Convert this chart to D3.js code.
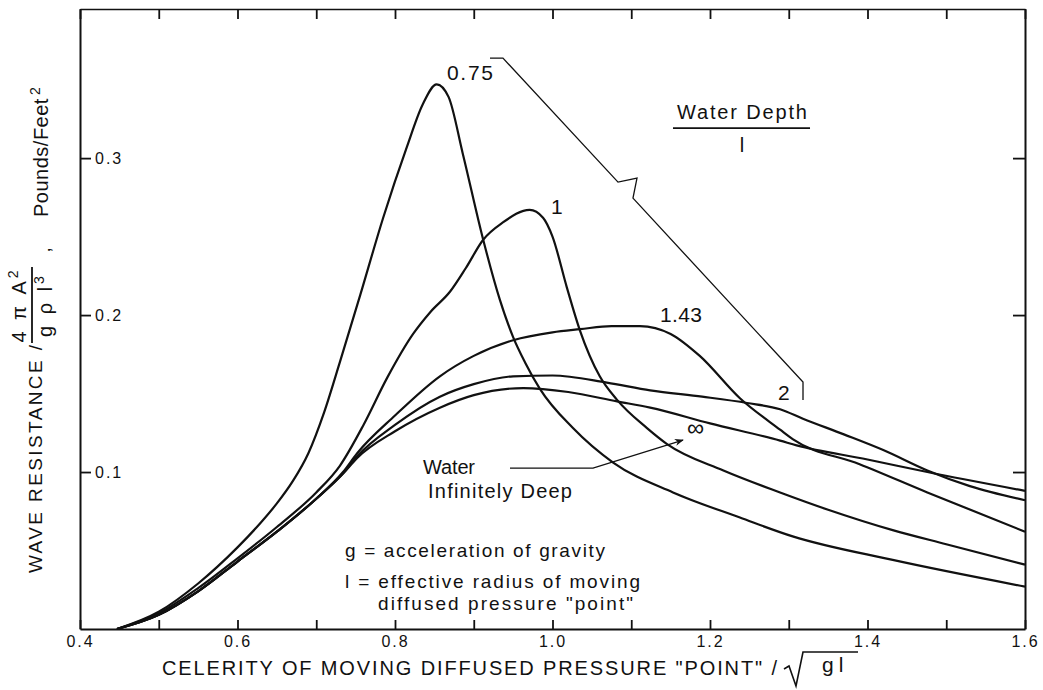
<!DOCTYPE html>
<html>
<head>
<meta charset="utf-8">
<script src="https://cdn.jsdelivr.net/npm/d3@7/dist/d3.min.js"></script>
<style>
body { margin: 0; background: #fff; }
text { font-family: "Liberation Sans", Arial, sans-serif; fill: #111; }
</style>
</head>
<body>
<svg id="chart" width="1043" height="690"></svg>
<script>
// wave resistance vs celerity, one curve per water depth / l
var depth075 = [[0.447,0],[0.50,0.011],[0.55,0.029],[0.60,0.052],[0.63,0.068],[0.65,0.080],[0.67,0.094],
  [0.69,0.112],[0.71,0.138],[0.73,0.170],[0.756,0.213],[0.785,0.262],[0.815,0.307],[0.835,0.334],
  [0.853,0.347],[0.868,0.339],[0.886,0.303],[0.912,0.248],[0.933,0.210],[0.950,0.186],[0.965,0.170],
  [0.984,0.153],[1.026,0.128],[1.077,0.106],[1.153,0.087],[1.238,0.071],[1.305,0.059],[1.432,0.044],
  [1.6,0.027]];
var depth1 = [[0.447,0],[0.50,0.010],[0.55,0.026],[0.60,0.045],[0.65,0.065],[0.70,0.087],[0.73,0.104],
  [0.76,0.130],[0.79,0.160],[0.823,0.188],[0.845,0.202],[0.870,0.215],[0.89,0.230],[0.912,0.248],
  [0.937,0.259],[0.971,0.267],[0.988,0.262],[1.0,0.250],[1.018,0.218],[1.035,0.190],[1.060,0.161],
  [1.082,0.146],[1.12,0.128],[1.145,0.118],[1.217,0.101],[1.289,0.087],[1.35,0.076],[1.432,0.063],
  [1.5,0.054],[1.6,0.041]];
var depth143 = [[0.447,0],[0.50,0.009],[0.55,0.024],[0.60,0.043],[0.65,0.062],[0.70,0.083],[0.734,0.100],
  [0.752,0.112],[0.80,0.136],[0.857,0.161],[0.90,0.174],[0.95,0.184],[1.0,0.189],[1.035,0.191],
  [1.075,0.193],[1.111,0.193],[1.15,0.188],[1.187,0.174],[1.238,0.147],[1.289,0.127],[1.305,0.121],
  [1.39,0.105],[1.476,0.087],[1.6,0.062]];
var depth2 = [[0.447,0],[0.50,0.009],[0.55,0.024],[0.60,0.043],[0.65,0.062],[0.70,0.083],[0.734,0.099],
  [0.752,0.110],[0.80,0.130],[0.857,0.148],[0.90,0.156],[0.95,0.161],[1.0,0.1615],[1.069,0.157],
  [1.124,0.152],[1.19,0.148],[1.247,0.144],[1.289,0.140],[1.318,0.134],[1.37,0.124],[1.42,0.114],
  [1.476,0.101],[1.53,0.091],[1.6,0.082]];
var depthInf = [[0.447,0],[0.50,0.009],[0.55,0.024],[0.60,0.043],[0.65,0.062],[0.70,0.083],[0.734,0.099],
  [0.752,0.109],[0.80,0.126],[0.857,0.141],[0.90,0.149],[0.963,0.1535],[1.02,0.151],[1.082,0.145],
  [1.124,0.141],[1.2,0.131],[1.289,0.120],[1.31,0.117],[1.40,0.108],[1.476,0.100],[1.6,0.088]];

var xTicks = [0.4,0.5,0.6,0.7,0.8,0.9,1.0,1.1,1.2,1.3,1.4,1.5,1.6];
var xTickLabels = ["0.4","","0.6","","0.8","","1.0","","1.2","","1.4","","1.6"];
var yTicks = [0.1,0.2,0.3];
var yTickLabels = ["0.1","0.2","0.3"];

var curveLabels = [
  {text: "0.75", x: 0.866, y: 0.3497, w: 46},
  {text: "1", x: 0.998, y: 0.2643, w: 0},
  {text: "1.43", x: 1.1365, y: 0.1955, w: 42},
  {text: "2", x: 1.2864, y: 0.1459, w: 0}
];

var svg = d3.select("#chart");

var x = d3.scaleLinear().domain([0.4, 1.6]).range([80, 1025]);
var y = d3.scaleLinear().domain([0, 0.395]).range([629, 9]);

// frame + ticks, all ticks pointing inward
var axBottom = svg.append("g")
  .attr("transform", "translate(0," + y(0) + ")")
  .call(d3.axisBottom(x).tickValues(xTicks).tickSizeInner(-9).tickSizeOuter(0).tickPadding(7)
    .tickFormat(function(d, i) { return xTickLabels[i]; }));
var axTop = svg.append("g")
  .attr("transform", "translate(0," + y(0.395) + ")")
  .call(d3.axisTop(x).tickValues(xTicks).tickSizeInner(-10).tickSizeOuter(0).tickFormat(""));
var axLeft = svg.append("g")
  .attr("transform", "translate(" + x(0.4) + ",0)")
  .call(d3.axisLeft(y).tickValues(yTicks).tickSizeInner(-11).tickSizeOuter(0)
    .tickFormat(function(d, i) { return yTickLabels[i]; }));
var axRight = svg.append("g")
  .attr("transform", "translate(" + x(1.6) + ",0)")
  .call(d3.axisRight(y).tickValues(yTicks).tickSizeInner(-12).tickSizeOuter(0).tickFormat(""));

[axBottom, axTop, axLeft, axRight].forEach(function(g) {
  g.attr("font-size", null).attr("font-family", null);
  g.select(".domain").attr("stroke", "#111").attr("stroke-width", 2);
  g.selectAll(".tick line").attr("stroke", "#111").attr("stroke-width", 1.8);
  g.selectAll("text").attr("fill", "#111");
});
axTop.select(".domain").attr("stroke-width", 1.6);
axBottom.selectAll("text").style("font-size", "16px").style("letter-spacing", "2px");
axLeft.selectAll("text").attr("x", 15).attr("dy", "0.35em").attr("text-anchor", "start")
  .style("font-size", "16px").style("letter-spacing", "2px");

// curves
var line = d3.line()
  .x(function(d) { return x(d[0]); })
  .y(function(d) { return y(d[1]); })
  .curve(d3.curveMonotoneX);

svg.append("g").selectAll("path")
  .data([depth075, depth1, depth143, depth2, depthInf])
  .enter().append("path")
  .attr("d", line)
  .attr("fill", "none")
  .attr("stroke", "#111")
  .attr("stroke-width", 2.2);

svg.append("g").selectAll("text")
  .data(curveLabels)
  .enter().append("text")
  .attr("x", function(d) { return x(d.x); })
  .attr("y", function(d) { return y(d.y); })
  .attr("textLength", function(d) { return d.w || null; })
  .attr("lengthAdjust", "spacing")
  .style("font-size", "21px")
  .text(function(d) { return d.text; });

svg.append("text")
  .attr("x", x(1.1708)).attr("y", y(0.1229))
  .style("font-size", "24px")
  .text("\u221e");

// bracket grouping the depth labels
var bracket = [[0.9206,0.3637],[0.9371,0.3637],[1.0832,0.2847],[1.1073,0.2873],[1.1022,0.2745],
  [1.3181,0.1573],[1.3181,0.1459]];
svg.append("path")
  .attr("d", d3.line().x(function(d) { return x(d[0]); }).y(function(d) { return y(d[1]); })(bracket))
  .attr("fill", "none").attr("stroke", "#111").attr("stroke-width", 1.3);

// Water Depth / l
svg.append("text").attr("x", x(1.158)).attr("y", y(0.3248))
  .attr("textLength", 130).attr("lengthAdjust", "spacing")
  .style("font-size", "20px").text("Water Depth");
svg.append("line")
  .attr("x1", x(1.153)).attr("x2", x(1.327))
  .attr("y1", y(0.3191)).attr("y2", y(0.3191))
  .attr("stroke", "#111").attr("stroke-width", 1.8);
svg.append("text").attr("x", x(1.2406)).attr("y", y(0.3038))
  .attr("text-anchor", "middle").style("font-size", "20px").text("l");

// Water Infinitely Deep pointer
svg.append("text").attr("x", x(0.8356)).attr("y", y(0.0987))
  .attr("textLength", 52).attr("lengthAdjust", "spacing")
  .style("font-size", "20px").text("Water");
svg.append("text").attr("x", x(0.8419)).attr("y", y(0.0834))
  .attr("textLength", 144).attr("lengthAdjust", "spacing")
  .style("font-size", "20px").text("Infinitely Deep");
var pointer = [[0.946,0.1025],[1.0514,0.1025],[1.1657,0.1204]];
svg.append("defs").append("marker")
  .attr("id", "head").attr("viewBox", "0 0 10 10").attr("refX", 9).attr("refY", 5)
  .attr("markerWidth", 16).attr("markerHeight", 9).attr("markerUnits", "userSpaceOnUse")
  .attr("orient", "auto")
  .append("path").attr("d", "M0,1 L10,5 L0,9 L3,5 Z").attr("fill", "#111");
svg.append("path")
  .attr("d", d3.line().x(function(d) { return x(d[0]); }).y(function(d) { return y(d[1]); })(pointer))
  .attr("fill", "none").attr("stroke", "#111").attr("stroke-width", 1.3)
  .attr("marker-end", "url(#head)");

// notes
var notes = svg.append("g").style("font-size", "19px");
notes.append("text").attr("x", 345).attr("y", 557)
  .attr("textLength", 260).attr("lengthAdjust", "spacing").text("g = acceleration of gravity");
notes.append("text").attr("x", 345).attr("y", 588)
  .attr("textLength", 295).attr("lengthAdjust", "spacing").text("l = effective radius of moving");
notes.append("text").attr("x", 378).attr("y", 610)
  .attr("textLength", 255).attr("lengthAdjust", "spacing").text("diffused pressure \"point\"");

// x axis title with radical
svg.append("text").attr("x", 162).attr("y", 675)
  .attr("textLength", 615).attr("lengthAdjust", "spacing")
  .style("font-size", "20px")
  .text("CELERITY OF MOVING DIFFUSED PRESSURE \"POINT\" /");
svg.append("path").attr("d", "M784,669 L789,666 L796,686 L803,652 L858,652")
  .attr("fill", "none").attr("stroke", "#111").attr("stroke-width", 1.6);
svg.append("text").attr("x", 822).attr("y", 672).style("font-size", "21px")
  .style("letter-spacing", "5px").text("gl");

// y axis title (rotated pieces)
function vtext(px, py, size, anchor) {
  return svg.append("text")
    .attr("transform", "translate(" + px + "," + py + ") rotate(-90)")
    .attr("text-anchor", anchor)
    .style("font-size", size + "px");
}
vtext(42, 573, 19, "start").attr("textLength", 228).attr("lengthAdjust", "spacing").text("WAVE RESISTANCE /");
var num = vtext(26, 305, 20, "middle").style("letter-spacing", "3px");
num.append("tspan").text("4 \u03c0 A");
num.append("tspan").attr("dy", -8).style("font-size", "14px").text("2");
var den = vtext(52, 305, 20, "middle").style("letter-spacing", "3px");
den.append("tspan").text("g \u03c1 l");
den.append("tspan").attr("dy", -8).style("font-size", "14px").text("3");
svg.append("line").attr("x1", 32).attr("x2", 32).attr("y1", 267).attr("y2", 343)
  .attr("stroke", "#111").attr("stroke-width", 1.8);
vtext(50, 250, 18, "middle").text(",");
var units = vtext(48, 217, 20, "start");
units.append("tspan").style("letter-spacing", "0.5px").text("Pounds/Feet");
units.append("tspan").attr("dx", 3).attr("dy", -8).style("font-size", "14px").text("2");
</script>
</body>
</html>
